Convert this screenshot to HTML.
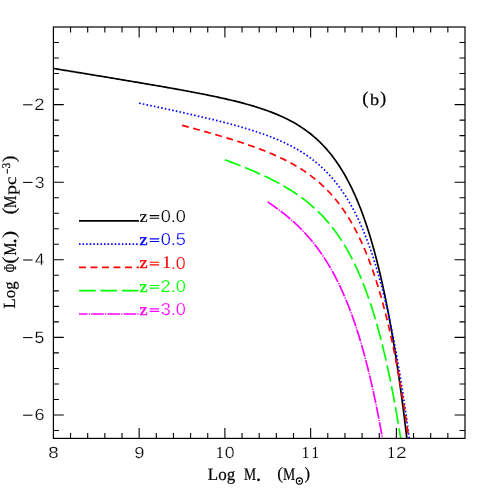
<!DOCTYPE html><html><head><meta charset="utf-8"><style>html,body{margin:0;padding:0;background:#fff;overflow:hidden}svg{display:block;position:absolute;left:0;top:0}text{text-rendering:geometricPrecision}</style></head><body>
<svg width="491" height="491" viewBox="0 0 491 491">
<rect width="491" height="491" fill="#fff"/>
<g opacity="0.999">
<g fill="none" stroke-width="1.7" stroke-linejoin="round">
<path d="M53.40,68.43 L55.37,68.75 L57.34,69.07 L59.32,69.40 L61.29,69.72 L63.26,70.04 L65.23,70.37 L67.20,70.69 L69.18,71.01 L71.15,71.34 L73.12,71.66 L75.09,71.99 L77.06,72.31 L79.04,72.63 L81.01,72.96 L82.98,73.28 L84.95,73.61 L86.92,73.93 L88.89,74.26 L90.87,74.58 L92.84,74.91 L94.81,75.23 L96.78,75.56 L98.75,75.88 L100.72,76.21 L102.70,76.53 L104.67,76.86 L106.64,77.19 L108.61,77.51 L110.58,77.84 L112.55,78.17 L114.52,78.50 L116.50,78.83 L118.47,79.15 L120.44,79.48 L122.41,79.81 L124.38,80.14 L126.35,80.47 L128.32,80.80 L130.29,81.13 L132.26,81.47 L134.23,81.80 L136.20,82.13 L138.17,82.46 L140.14,82.80 L142.11,83.13 L144.09,83.47 L146.05,83.80 L148.02,84.14 L149.99,84.48 L151.96,84.82 L153.93,85.15 L155.90,85.50 L157.87,85.84 L159.84,86.18 L161.81,86.52 L163.78,86.87 L165.75,87.21 L167.71,87.56 L169.68,87.91 L171.65,88.26 L173.62,88.61 L175.58,88.96 L177.55,89.32 L179.52,89.67 L181.48,90.03 L183.45,90.39 L185.41,90.76 L187.38,91.12 L189.34,91.49 L191.30,91.86 L193.27,92.23 L195.23,92.60 L197.19,92.98 L199.16,93.36 L201.12,93.75 L203.08,94.13 L205.04,94.52 L207.00,94.92 L208.95,95.32 L210.91,95.72 L212.87,96.13 L214.82,96.54 L216.78,96.95 L218.73,97.37 L220.68,97.80 L222.64,98.23 L224.58,98.67 L226.53,99.11 L228.48,99.56 L230.43,100.02 L232.37,100.48 L234.31,100.95 L236.25,101.43 L238.19,101.92 L240.13,102.42 L242.06,102.92 L243.99,103.43 L245.92,103.96 L247.84,104.49 L249.77,105.04 L251.69,105.59 L253.60,106.16 L255.51,106.74 L257.42,107.34 L259.33,107.94 L261.23,108.57 L263.12,109.20 L265.01,109.85 L266.89,110.52 L268.77,111.20 L270.64,111.90 L272.51,112.62 L274.37,113.36 L276.22,114.11 L278.06,114.89 L279.89,115.68 L281.71,116.50 L283.53,117.34 L285.33,118.20 L287.13,119.08 L288.91,119.98 L290.68,120.91 L292.43,121.87 L294.18,122.84 L295.90,123.85 L297.62,124.87 L299.32,125.93 L301.00,127.01 L302.66,128.11 L304.31,129.24 L305.94,130.40 L307.55,131.58 L309.14,132.79 L310.72,134.02 L312.27,135.28 L313.80,136.56 L315.31,137.87 L316.80,139.21 L318.26,140.56 L319.71,141.94 L321.13,143.35 L322.53,144.77 L323.91,146.22 L325.26,147.69 L326.59,149.18 L327.90,150.69 L329.19,152.22 L330.46,153.77 L331.70,155.33 L332.92,156.91 L334.12,158.51 L335.29,160.13 L336.45,161.76 L337.58,163.40 L338.70,165.06 L339.79,166.73 L340.87,168.42 L341.92,170.12 L342.96,171.83 L343.97,173.55 L344.97,175.28 L345.95,177.02 L346.91,178.77 L347.86,180.53 L348.79,182.30 L349.70,184.08 L350.59,185.87 L351.48,187.66 L352.34,189.46 L353.19,191.27 L354.03,193.08 L354.85,194.91 L355.66,196.73 L356.45,198.57 L357.23,200.41 L358.00,202.25 L358.76,204.10 L359.50,205.96 L360.23,207.81 L360.95,209.68 L361.66,211.55 L362.36,213.42 L363.05,215.30 L363.73,217.18 L364.39,219.06 L365.05,220.95 L365.70,222.84 L366.34,224.73 L366.97,226.63 L367.59,228.53 L368.20,230.43 L368.80,232.33 L369.40,234.24 L369.98,236.15 L370.56,238.06 L371.13,239.98 L371.70,241.90 L372.25,243.82 L372.80,245.74 L373.34,247.66 L373.88,249.59 L374.41,251.51 L374.93,253.44 L375.44,255.37 L375.95,257.31 L376.46,259.24 L376.95,261.18 L377.44,263.11 L377.93,265.05 L378.41,266.99 L378.88,268.93 L379.35,270.88 L379.81,272.82 L380.27,274.76 L380.72,276.71 L381.17,278.66 L381.61,280.61 L382.05,282.56 L382.49,284.51 L382.92,286.46 L383.34,288.41 L383.76,290.37 L384.18,292.32 L384.59,294.28 L384.99,296.23 L385.40,298.19 L385.80,300.15 L386.19,302.11 L386.58,304.07 L386.97,306.03 L387.36,307.99 L387.74,309.95 L388.11,311.91 L388.48,313.88 L388.85,315.84 L389.22,317.80 L389.58,319.77 L389.94,321.73 L390.30,323.70 L390.65,325.67 L391.00,327.63 L391.35,329.60 L391.69,331.57 L392.04,333.54 L392.37,335.51 L392.71,337.48 L393.04,339.45 L393.37,341.42 L393.70,343.39 L394.02,345.36 L394.34,347.34 L394.66,349.31 L394.98,351.28 L395.29,353.26 L395.60,355.23 L395.91,357.20 L396.22,359.18 L396.52,361.15 L396.83,363.13 L397.12,365.11 L397.42,367.08 L397.72,369.06 L398.01,371.04 L398.30,373.01 L398.59,374.99 L398.87,376.97 L399.16,378.95 L399.44,380.92 L399.72,382.90 L400.00,384.88 L400.27,386.86 L400.55,388.84 L400.82,390.82 L401.09,392.80 L401.36,394.78 L401.63,396.76 L401.89,398.74 L402.15,400.72 L402.42,402.70 L402.67,404.68 L402.93,406.67 L403.19,408.65 L403.44,410.63 L403.70,412.61 L403.95,414.59 L404.20,416.58 L404.44,418.56 L404.69,420.54 L404.93,422.53 L405.18,424.51 L405.42,426.49 L405.66,428.48 L405.90,430.46 L406.14,432.45 L406.37,434.43 L406.61,436.42 L406.84,438.40" stroke="#000"/>
<path d="M139.15,103.17 L141.10,103.58 L143.06,104.00 L145.01,104.41 L146.97,104.82 L148.92,105.24 L150.87,105.66 L152.83,106.07 L154.78,106.49 L156.73,106.91 L158.69,107.33 L160.64,107.75 L162.59,108.17 L164.55,108.59 L166.50,109.02 L168.45,109.44 L170.40,109.86 L172.35,110.29 L174.30,110.72 L176.25,111.15 L178.21,111.58 L180.16,112.01 L182.11,112.44 L184.06,112.88 L186.00,113.32 L187.95,113.76 L189.90,114.20 L191.85,114.64 L193.80,115.08 L195.74,115.53 L197.69,115.98 L199.64,116.43 L201.58,116.89 L203.53,117.34 L205.47,117.80 L207.41,118.27 L209.35,118.73 L211.30,119.20 L213.24,119.68 L215.18,120.15 L217.12,120.63 L219.05,121.12 L220.99,121.61 L222.93,122.10 L224.86,122.60 L226.79,123.11 L228.72,123.61 L230.65,124.13 L232.58,124.65 L234.51,125.17 L236.44,125.71 L238.36,126.25 L240.28,126.79 L242.20,127.35 L244.12,127.91 L246.03,128.48 L247.94,129.06 L249.85,129.64 L251.76,130.24 L253.66,130.85 L255.56,131.46 L257.46,132.09 L259.35,132.73 L261.24,133.38 L263.13,134.04 L265.01,134.71 L266.88,135.40 L268.75,136.10 L270.62,136.81 L272.48,137.54 L274.33,138.29 L276.18,139.05 L278.02,139.83 L279.85,140.62 L281.68,141.43 L283.49,142.26 L285.30,143.11 L287.10,143.98 L288.89,144.86 L290.67,145.77 L292.44,146.70 L294.20,147.65 L295.94,148.62 L297.67,149.61 L299.39,150.63 L301.10,151.67 L302.79,152.73 L304.47,153.82 L306.13,154.93 L307.78,156.06 L309.40,157.21 L311.02,158.39 L312.61,159.60 L314.19,160.83 L315.74,162.08 L317.28,163.35 L318.80,164.65 L320.30,165.97 L321.77,167.32 L323.23,168.68 L324.67,170.07 L326.08,171.48 L327.47,172.91 L328.85,174.37 L330.20,175.84 L331.52,177.33 L332.83,178.84 L334.12,180.37 L335.38,181.92 L336.62,183.48 L337.85,185.06 L339.05,186.66 L340.23,188.27 L341.39,189.89 L342.53,191.54 L343.64,193.19 L344.74,194.86 L345.82,196.54 L346.88,198.23 L347.93,199.94 L348.95,201.65 L349.96,203.38 L350.94,205.11 L351.92,206.86 L352.87,208.61 L353.81,210.38 L354.73,212.15 L355.63,213.93 L356.52,215.72 L357.40,217.51 L358.26,219.32 L359.10,221.13 L359.93,222.94 L360.75,224.77 L361.56,226.59 L362.35,228.43 L363.13,230.27 L363.89,232.11 L364.65,233.96 L365.39,235.82 L366.12,237.68 L366.84,239.54 L367.55,241.41 L368.24,243.28 L368.93,245.16 L369.61,247.03 L370.27,248.92 L370.93,250.80 L371.58,252.69 L372.22,254.59 L372.85,256.48 L373.47,258.38 L374.08,260.28 L374.68,262.19 L375.28,264.09 L375.87,266.00 L376.45,267.91 L377.02,269.83 L377.58,271.74 L378.14,273.66 L378.69,275.58 L379.23,277.51 L379.77,279.43 L380.30,281.36 L380.82,283.28 L381.34,285.21 L381.85,287.14 L382.35,289.08 L382.85,291.01 L383.34,292.95 L383.83,294.88 L384.31,296.82 L384.78,298.76 L385.25,300.71 L385.72,302.65 L386.18,304.59 L386.63,306.54 L387.08,308.48 L387.53,310.43 L387.97,312.38 L388.40,314.33 L388.83,316.28 L389.26,318.23 L389.68,320.18 L390.10,322.14 L390.51,324.09 L390.92,326.05 L391.33,328.00 L391.73,329.96 L392.13,331.92 L392.52,333.88 L392.91,335.83 L393.29,337.79 L393.68,339.75 L394.05,341.72 L394.43,343.68 L394.80,345.64 L395.17,347.60 L395.53,349.57 L395.90,351.53 L396.25,353.50 L396.61,355.46 L396.96,357.43 L397.31,359.40 L397.66,361.36 L398.00,363.33 L398.34,365.30 L398.67,367.27 L399.01,369.24 L399.34,371.21 L399.67,373.18 L399.99,375.15 L400.32,377.12 L400.64,379.09 L400.96,381.06 L401.27,383.04 L401.59,385.01 L401.90,386.98 L402.20,388.96 L402.51,390.93 L402.81,392.91 L403.11,394.88 L403.41,396.86 L403.71,398.83 L404.00,400.81 L404.30,402.78 L404.59,404.76 L404.87,406.74 L405.16,408.71 L405.44,410.69 L405.72,412.67 L406.00,414.65 L406.28,416.62 L406.56,418.60 L406.83,420.58 L407.10,422.56 L407.37,424.54 L407.64,426.52 L407.91,428.50 L408.17,430.48 L408.43,432.46 L408.70,434.44 L408.96,436.42 L409.21,438.40" stroke="#0000ff" stroke-dasharray="1.6 2.15"/>
<path d="M182.03,125.30 L183.95,125.82 L185.87,126.33 L187.79,126.85 L189.71,127.37 L191.64,127.90 L193.56,128.42 L195.48,128.95 L197.40,129.48 L199.31,130.01 L201.23,130.54 L203.15,131.08 L205.07,131.62 L206.98,132.16 L208.90,132.70 L210.81,133.25 L212.73,133.80 L214.64,134.35 L216.55,134.90 L218.46,135.46 L220.37,136.03 L222.28,136.60 L224.19,137.17 L226.09,137.74 L228.00,138.32 L229.90,138.91 L231.80,139.50 L233.70,140.09 L235.60,140.70 L237.50,141.30 L239.39,141.92 L241.28,142.53 L243.17,143.16 L245.06,143.79 L246.95,144.43 L248.83,145.08 L250.71,145.74 L252.59,146.40 L254.46,147.07 L256.33,147.76 L258.20,148.45 L260.06,149.15 L261.92,149.86 L263.78,150.58 L265.63,151.32 L267.47,152.06 L269.31,152.82 L271.15,153.59 L272.98,154.37 L274.81,155.17 L276.62,155.98 L278.44,156.81 L280.24,157.65 L282.04,158.50 L283.83,159.37 L285.61,160.26 L287.38,161.17 L289.15,162.09 L290.90,163.03 L292.65,163.99 L294.38,164.97 L296.10,165.97 L297.81,166.99 L299.51,168.02 L301.20,169.08 L302.87,170.16 L304.53,171.26 L306.18,172.38 L307.81,173.52 L309.42,174.69 L311.02,175.87 L312.61,177.08 L314.17,178.31 L315.72,179.56 L317.25,180.83 L318.77,182.13 L320.26,183.44 L321.74,184.78 L323.19,186.13 L324.63,187.51 L326.05,188.91 L327.45,190.33 L328.83,191.77 L330.18,193.22 L331.52,194.70 L332.84,196.19 L334.13,197.70 L335.41,199.23 L336.67,200.77 L337.90,202.33 L339.12,203.91 L340.31,205.50 L341.49,207.11 L342.65,208.73 L343.78,210.36 L344.90,212.01 L346.00,213.67 L347.08,215.35 L348.14,217.03 L349.19,218.73 L350.21,220.43 L351.22,222.15 L352.21,223.87 L353.19,225.61 L354.14,227.36 L355.09,229.11 L356.01,230.87 L356.92,232.64 L357.82,234.42 L358.70,236.21 L359.57,238.00 L360.42,239.80 L361.26,241.61 L362.08,243.42 L362.89,245.24 L363.69,247.06 L364.48,248.89 L365.25,250.72 L366.01,252.56 L366.76,254.41 L367.50,256.26 L368.23,258.11 L368.94,259.97 L369.65,261.83 L370.34,263.70 L371.03,265.57 L371.70,267.44 L372.37,269.32 L373.02,271.20 L373.67,273.08 L374.30,274.96 L374.93,276.85 L375.55,278.75 L376.16,280.64 L376.77,282.54 L377.36,284.44 L377.95,286.34 L378.53,288.25 L379.10,290.15 L379.66,292.06 L380.22,293.97 L380.77,295.89 L381.32,297.80 L381.85,299.72 L382.38,301.64 L382.91,303.56 L383.42,305.48 L383.93,307.41 L384.44,309.33 L384.94,311.26 L385.43,313.19 L385.92,315.12 L386.40,317.05 L386.88,318.98 L387.35,320.92 L387.81,322.85 L388.28,324.79 L388.73,326.73 L389.18,328.67 L389.63,330.61 L390.07,332.55 L390.51,334.49 L390.94,336.44 L391.37,338.38 L391.79,340.33 L392.21,342.27 L392.62,344.22 L393.03,346.17 L393.44,348.12 L393.84,350.07 L394.24,352.02 L394.64,353.97 L395.03,355.92 L395.42,357.87 L395.80,359.83 L396.18,361.78 L396.56,363.74 L396.93,365.69 L397.30,367.65 L397.67,369.61 L398.03,371.56 L398.39,373.52 L398.75,375.48 L399.10,377.44 L399.45,379.40 L399.80,381.36 L400.14,383.32 L400.48,385.28 L400.82,387.25 L401.16,389.21 L401.49,391.17 L401.82,393.13 L402.15,395.10 L402.47,397.06 L402.80,399.03 L403.11,400.99 L403.43,402.96 L403.75,404.92 L404.06,406.89 L404.37,408.86 L404.68,410.82 L404.98,412.79 L405.28,414.76 L405.58,416.73 L405.88,418.70 L406.18,420.67 L406.47,422.64 L406.76,424.60 L407.05,426.57 L407.34,428.54 L407.62,430.52 L407.91,432.49 L408.19,434.46 L408.47,436.43 L408.75,438.40" stroke="#ff0000" stroke-dasharray="6.9 4.6"/>
<path d="M224.90,159.83 L226.77,160.52 L228.64,161.21 L230.50,161.91 L232.37,162.62 L234.23,163.33 L236.09,164.04 L237.94,164.76 L239.80,165.49 L241.65,166.22 L243.50,166.96 L245.35,167.71 L247.19,168.46 L249.03,169.23 L250.87,170.00 L252.70,170.77 L254.53,171.56 L256.36,172.36 L258.18,173.16 L260.00,173.98 L261.81,174.80 L263.62,175.64 L265.42,176.49 L267.22,177.35 L269.01,178.22 L270.80,179.10 L272.58,179.99 L274.35,180.90 L276.12,181.82 L277.88,182.76 L279.63,183.71 L281.37,184.68 L283.11,185.66 L284.83,186.65 L286.55,187.66 L288.25,188.69 L289.95,189.74 L291.63,190.80 L293.31,191.88 L294.97,192.98 L296.62,194.09 L298.26,195.22 L299.89,196.38 L301.50,197.55 L303.10,198.74 L304.68,199.95 L306.25,201.18 L307.80,202.42 L309.34,203.69 L310.86,204.98 L312.36,206.28 L313.85,207.61 L315.32,208.95 L316.78,210.31 L318.21,211.69 L319.63,213.09 L321.03,214.51 L322.41,215.95 L323.77,217.40 L325.11,218.87 L326.44,220.36 L327.74,221.87 L329.03,223.39 L330.30,224.92 L331.55,226.48 L332.78,228.04 L333.99,229.63 L335.18,231.22 L336.35,232.83 L337.50,234.46 L338.64,236.09 L339.76,237.74 L340.86,239.40 L341.94,241.08 L343.00,242.76 L344.05,244.46 L345.08,246.16 L346.09,247.88 L347.09,249.60 L348.07,251.34 L349.04,253.08 L349.98,254.83 L350.92,256.59 L351.84,258.36 L352.74,260.13 L353.63,261.92 L354.50,263.71 L355.37,265.50 L356.21,267.31 L357.05,269.11 L357.87,270.93 L358.68,272.75 L359.47,274.58 L360.26,276.41 L361.03,278.25 L361.79,280.09 L362.54,281.93 L363.27,283.78 L364.00,285.64 L364.72,287.50 L365.42,289.36 L366.12,291.23 L366.80,293.10 L367.48,294.97 L368.14,296.85 L368.80,298.73 L369.45,300.62 L370.09,302.50 L370.72,304.39 L371.34,306.28 L371.95,308.18 L372.56,310.08 L373.15,311.98 L373.74,313.88 L374.33,315.79 L374.90,317.69 L375.47,319.60 L376.03,321.52 L376.58,323.43 L377.13,325.35 L377.67,327.26 L378.20,329.18 L378.73,331.10 L379.25,333.03 L379.76,334.95 L380.27,336.88 L380.77,338.81 L381.27,340.74 L381.76,342.67 L382.24,344.60 L382.72,346.53 L383.20,348.47 L383.67,350.40 L384.13,352.34 L384.59,354.28 L385.05,356.22 L385.50,358.16 L385.94,360.10 L386.38,362.04 L386.82,363.99 L387.25,365.93 L387.67,367.88 L388.10,369.83 L388.51,371.77 L388.93,373.72 L389.34,375.67 L389.74,377.62 L390.15,379.57 L390.54,381.53 L390.94,383.48 L391.33,385.43 L391.72,387.39 L392.10,389.34 L392.48,391.30 L392.86,393.25 L393.23,395.21 L393.60,397.17 L393.97,399.13 L394.33,401.09 L394.69,403.04 L395.05,405.00 L395.40,406.96 L395.75,408.93 L396.10,410.89 L396.44,412.85 L396.78,414.81 L397.12,416.78 L397.46,418.74 L397.79,420.70 L398.12,422.67 L398.45,424.63 L398.78,426.60 L399.10,428.56 L399.42,430.53 L399.74,432.50 L400.05,434.46 L400.36,436.43 L400.67,438.40" stroke="#00ff00" stroke-dasharray="16.7 4.7"/>
<path d="M267.77,202.06 L269.43,203.16 L271.08,204.28 L272.72,205.40 L274.35,206.55 L275.98,207.70 L277.59,208.87 L279.19,210.06 L280.78,211.26 L282.36,212.47 L283.92,213.70 L285.48,214.95 L287.02,216.21 L288.55,217.48 L290.07,218.77 L291.57,220.08 L293.06,221.40 L294.54,222.74 L296.00,224.10 L297.44,225.47 L298.87,226.85 L300.29,228.25 L301.69,229.67 L303.07,231.10 L304.44,232.55 L305.79,234.01 L307.13,235.49 L308.45,236.98 L309.75,238.49 L311.04,240.01 L312.30,241.54 L313.56,243.09 L314.79,244.65 L316.01,246.23 L317.21,247.82 L318.40,249.42 L319.56,251.03 L320.71,252.66 L321.85,254.30 L322.96,255.95 L324.07,257.61 L325.15,259.28 L326.22,260.96 L327.27,262.65 L328.31,264.35 L329.33,266.06 L330.34,267.78 L331.33,269.51 L332.30,271.24 L333.26,272.99 L334.21,274.74 L335.14,276.50 L336.06,278.27 L336.96,280.04 L337.85,281.82 L338.73,283.61 L339.59,285.41 L340.44,287.21 L341.28,289.01 L342.11,290.83 L342.92,292.64 L343.72,294.47 L344.51,296.30 L345.29,298.13 L346.06,299.97 L346.81,301.81 L347.56,303.66 L348.29,305.51 L349.02,307.36 L349.73,309.22 L350.44,311.09 L351.13,312.95 L351.82,314.82 L352.49,316.70 L353.16,318.57 L353.82,320.45 L354.47,322.34 L355.11,324.22 L355.74,326.11 L356.36,328.00 L356.98,329.90 L357.59,331.79 L358.19,333.69 L358.78,335.59 L359.37,337.50 L359.94,339.40 L360.51,341.31 L361.08,343.22 L361.64,345.13 L362.19,347.05 L362.73,348.96 L363.27,350.88 L363.80,352.80 L364.32,354.72 L364.84,356.64 L365.35,358.57 L365.86,360.50 L366.36,362.42 L366.86,364.35 L367.35,366.28 L367.83,368.21 L368.31,370.15 L368.79,372.08 L369.26,374.02 L369.72,375.95 L370.18,377.89 L370.64,379.83 L371.09,381.77 L371.53,383.71 L371.97,385.65 L372.41,387.60 L372.84,389.54 L373.27,391.49 L373.69,393.43 L374.11,395.38 L374.53,397.33 L374.94,399.28 L375.35,401.23 L375.75,403.18 L376.15,405.13 L376.55,407.08 L376.94,409.03 L377.33,410.99 L377.71,412.94 L378.10,414.90 L378.47,416.85 L378.85,418.81 L379.22,420.76 L379.59,422.72 L379.95,424.68 L380.32,426.64 L380.67,428.60 L381.03,430.56 L381.38,432.52 L381.73,434.48 L382.08,436.44 L382.42,438.40" stroke="#ff00ff" stroke-dasharray="12.3 1.2 1.2 1.2"/>
</g>
<path d="M70.55,438.4v-5.5M70.55,27.0v5.5M87.70,438.4v-5.5M87.70,27.0v5.5M104.85,438.4v-5.5M104.85,27.0v5.5M122.00,438.4v-5.5M122.00,27.0v5.5M139.15,438.4v-10.4M139.15,27.0v10.4M156.30,438.4v-5.5M156.30,27.0v5.5M173.45,438.4v-5.5M173.45,27.0v5.5M190.60,438.4v-5.5M190.60,27.0v5.5M207.75,438.4v-5.5M207.75,27.0v5.5M224.90,438.4v-10.4M224.90,27.0v10.4M242.05,438.4v-5.5M242.05,27.0v5.5M259.20,438.4v-5.5M259.20,27.0v5.5M276.35,438.4v-5.5M276.35,27.0v5.5M293.50,438.4v-5.5M293.50,27.0v5.5M310.65,438.4v-10.4M310.65,27.0v10.4M327.80,438.4v-5.5M327.80,27.0v5.5M344.95,438.4v-5.5M344.95,27.0v5.5M362.10,438.4v-5.5M362.10,27.0v5.5M379.25,438.4v-5.5M379.25,27.0v5.5M396.40,438.4v-10.4M396.40,27.0v10.4M413.55,438.4v-5.5M413.55,27.0v5.5M430.70,438.4v-5.5M430.70,27.0v5.5M447.85,438.4v-5.5M447.85,27.0v5.5M53.4,430.52h5.5M465.0,430.52h-5.5M53.4,415.00h10.4M465.0,415.00h-10.4M53.4,399.48h5.5M465.0,399.48h-5.5M53.4,383.96h5.5M465.0,383.96h-5.5M53.4,368.44h5.5M465.0,368.44h-5.5M53.4,352.92h5.5M465.0,352.92h-5.5M53.4,337.40h10.4M465.0,337.40h-10.4M53.4,321.88h5.5M465.0,321.88h-5.5M53.4,306.36h5.5M465.0,306.36h-5.5M53.4,290.84h5.5M465.0,290.84h-5.5M53.4,275.32h5.5M465.0,275.32h-5.5M53.4,259.80h10.4M465.0,259.80h-10.4M53.4,244.28h5.5M465.0,244.28h-5.5M53.4,228.76h5.5M465.0,228.76h-5.5M53.4,213.24h5.5M465.0,213.24h-5.5M53.4,197.72h5.5M465.0,197.72h-5.5M53.4,182.20h10.4M465.0,182.20h-10.4M53.4,166.68h5.5M465.0,166.68h-5.5M53.4,151.16h5.5M465.0,151.16h-5.5M53.4,135.64h5.5M465.0,135.64h-5.5M53.4,120.12h5.5M465.0,120.12h-5.5M53.4,104.60h10.4M465.0,104.60h-10.4M53.4,89.08h5.5M465.0,89.08h-5.5M53.4,73.56h5.5M465.0,73.56h-5.5M53.4,58.04h5.5M465.0,58.04h-5.5M53.4,42.52h5.5M465.0,42.52h-5.5" stroke="#000" stroke-width="1.1" fill="none"/>
<rect x="53.4" y="27.0" width="411.6" height="411.4" fill="none" stroke="#000" stroke-width="1.2"/>
<text transform="matrix(0.1875 0 0 0.1624 48.19 458.44)" font-family='"Liberation Sans",sans-serif' font-size="100" fill="#000" stroke="#fff" stroke-width="1.43">8</text>
<text transform="matrix(0.1840 0 0 0.1596 134.24 458.24)" font-family='"Liberation Sans",sans-serif' font-size="100" fill="#000" stroke="#fff" stroke-width="1.46">9</text>
<text transform="matrix(0.1505 0 0 0.1681 215.88 458.40)" font-family='"Liberation Serif",serif' font-size="100" fill="#000">1</text>
<text transform="matrix(0.1778 0 0 0.1624 224.71 458.44)" font-family='"Liberation Sans",sans-serif' font-size="100" fill="#000" stroke="#fff" stroke-width="1.47">0</text>
<text transform="matrix(0.1505 0 0 0.1681 301.68 458.40)" font-family='"Liberation Serif",serif' font-size="100" fill="#000">1</text>
<text transform="matrix(0.1505 0 0 0.1681 311.48 458.40)" font-family='"Liberation Serif",serif' font-size="100" fill="#000">1</text>
<text transform="matrix(0.1477 0 0 0.1681 387.60 458.40)" font-family='"Liberation Serif",serif' font-size="100" fill="#000">1</text>
<text transform="matrix(0.1910 0 0 0.1604 396.04 458.40)" font-family='"Liberation Sans",sans-serif' font-size="100" fill="#000" stroke="#fff" stroke-width="1.42">2</text>
<path d="M23.1,104.80H32.5" stroke="#000" stroke-width="1.05"/>
<text transform="matrix(0.1844 0 0 0.1647 34.37 110.20)" font-family='"Liberation Sans",sans-serif' font-size="100" fill="#000" stroke="#fff" stroke-width="1.43">2</text>
<path d="M23.1,182.40H32.5" stroke="#000" stroke-width="1.05"/>
<text transform="matrix(0.1772 0 0 0.1624 34.63 187.64)" font-family='"Liberation Sans",sans-serif' font-size="100" fill="#000" stroke="#fff" stroke-width="1.47">3</text>
<path d="M23.1,260.00H32.5" stroke="#000" stroke-width="1.05"/>
<text transform="matrix(0.1667 0 0 0.1672 34.92 265.40)" font-family='"Liberation Sans",sans-serif' font-size="100" fill="#000" stroke="#fff" stroke-width="1.50">4</text>
<path d="M23.1,337.60H32.5" stroke="#000" stroke-width="1.05"/>
<text transform="matrix(0.1772 0 0 0.1648 34.59 342.84)" font-family='"Liberation Sans",sans-serif' font-size="100" fill="#000" stroke="#fff" stroke-width="1.46">5</text>
<path d="M23.1,415.20H32.5" stroke="#000" stroke-width="1.05"/>
<text transform="matrix(0.1820 0 0 0.1624 34.38 420.44)" font-family='"Liberation Sans",sans-serif' font-size="100" fill="#000" stroke="#fff" stroke-width="1.45">6</text>
<path d="M79.0,220.8H138.9" stroke="#000" stroke-width="1.7" fill="none"/>
<text transform="matrix(0.1824 0 0 0.1678 139.51 221.70)" font-family='"Liberation Serif",serif' font-size="100" fill="#000" stroke="#000" stroke-width="1.14">z</text>
<path d="M149.7,215.60H159.2M149.7,218.20H159.2" stroke="#000" stroke-width="1.15"/>
<text transform="matrix(0.1814 0 0 0.1737 160.69 221.93)" font-family='"Liberation Sans",sans-serif' font-size="100" fill="#000" stroke="#fff" stroke-width="1.41">0.0</text>
<path d="M79.0,244.1H138.9" stroke="#0000ff" stroke-width="1.7" fill="none" stroke-dasharray="1.55 2.02"/>
<text transform="matrix(0.1824 0 0 0.1678 139.51 245.00)" font-family='"Liberation Serif",serif' font-size="100" fill="#0000ff" stroke="#0000ff" stroke-width="2.28">z</text>
<path d="M149.7,238.90H159.2M149.7,241.50H159.2" stroke="#0000ff" stroke-width="1.15"/>
<text transform="matrix(0.1818 0 0 0.1737 160.69 245.23)" font-family='"Liberation Sans",sans-serif' font-size="100" fill="#0000ff" stroke="#fff" stroke-width="1.41">0.5</text>
<path d="M79.0,267.4H138.9" stroke="#ff0000" stroke-width="1.7" fill="none" stroke-dasharray="6.9 4.6"/>
<text transform="matrix(0.1824 0 0 0.1678 139.51 268.30)" font-family='"Liberation Serif",serif' font-size="100" fill="#ff0000" stroke="#ff0000" stroke-width="2.28">z</text>
<path d="M149.7,262.20H159.2M149.7,264.80H159.2" stroke="#ff0000" stroke-width="1.15"/>
<text transform="matrix(0.1960 0 0 0.1787 161.78 268.40)" font-family='"Liberation Serif",serif' font-size="100" fill="#ff0000">1</text>
<text transform="matrix(0.1791 0 0 0.1737 170.76 268.53)" font-family='"Liberation Sans",sans-serif' font-size="100" fill="#ff0000" stroke="#fff" stroke-width="1.42">.0</text>
<path d="M79.0,290.7H138.9" stroke="#00ff00" stroke-width="1.7" fill="none" stroke-dasharray="16.7 4.7"/>
<text transform="matrix(0.1824 0 0 0.1678 139.51 291.60)" font-family='"Liberation Serif",serif' font-size="100" fill="#00ff00" stroke="#00ff00" stroke-width="2.28">z</text>
<path d="M149.7,285.50H159.2M149.7,288.10H159.2" stroke="#00ff00" stroke-width="1.15"/>
<text transform="matrix(0.1830 0 0 0.1737 160.48 291.83)" font-family='"Liberation Sans",sans-serif' font-size="100" fill="#00ff00" stroke="#fff" stroke-width="1.40">2.0</text>
<path d="M79.0,314.0H138.9" stroke="#ff00ff" stroke-width="1.7" fill="none" stroke-dasharray="12.6 1.2 1.2 1.2" stroke-dashoffset="4"/>
<text transform="matrix(0.1824 0 0 0.1678 139.51 314.90)" font-family='"Liberation Serif",serif' font-size="100" fill="#ff00ff" stroke="#ff00ff" stroke-width="2.28">z</text>
<path d="M149.7,308.80H159.2M149.7,311.40H159.2" stroke="#ff00ff" stroke-width="1.15"/>
<text transform="matrix(0.1813 0 0 0.1737 160.71 315.13)" font-family='"Liberation Sans",sans-serif' font-size="100" fill="#ff00ff" stroke="#fff" stroke-width="1.41">3.0</text>
<text transform="matrix(0.1908 0 0 0.1798 362.26 104.37)" font-family='"Liberation Serif",serif' font-size="100" fill="#000" stroke="#000" stroke-width="1.19">(</text>
<text transform="matrix(0.1840 0 0 0.1620 370.10 104.84)" font-family='"Liberation Serif",serif' font-size="100" fill="#000" stroke="#000" stroke-width="1.27">b</text>
<text transform="matrix(0.1869 0 0 0.1798 380.10 104.37)" font-family='"Liberation Serif",serif' font-size="100" fill="#000" stroke="#000" stroke-width="1.20">)</text>
<text transform="matrix(0.1695 0 0 0.1734 207.81 479.66)" font-family='"Liberation Serif",serif' font-size="100" fill="#000" stroke="#000" stroke-width="1.28">Log</text>
<text transform="matrix(0.1360 0 0 0.1772 243.91 480.10)" font-family='"Liberation Serif",serif' font-size="100" fill="#000" stroke="#000" stroke-width="1.41">M</text>
<circle cx="258.5" cy="479.8" r="1.4" fill="#000"/>
<text transform="matrix(0.1713 0 0 0.1731 277.15 479.11)" font-family='"Liberation Serif",serif' font-size="100" fill="#000" stroke="#000" stroke-width="1.28">(</text>
<text transform="matrix(0.1372 0 0 0.1772 283.10 480.10)" font-family='"Liberation Serif",serif' font-size="100" fill="#000" stroke="#000" stroke-width="1.40">M</text>
<circle cx="299.4" cy="481.0" r="3.1" fill="none" stroke="#000" stroke-width="1.1"/><circle cx="299.4" cy="481.0" r="1.1" fill="#000"/>
<text transform="matrix(0.1674 0 0 0.1731 304.46 479.11)" font-family='"Liberation Serif",serif' font-size="100" fill="#000" stroke="#000" stroke-width="1.29">)</text>
<g transform="translate(15.7,307.3) rotate(-90)">
<text transform="matrix(0.1670 0 0 0.1700 -1.08 -0.27)" font-family='"Liberation Serif",serif' font-size="100" fill="#000" stroke="#000" stroke-width="1.31">Log</text>
<text transform="matrix(0.1149 0 0 0.1787 35.05 0.20)" font-family='"Liberation Serif",serif' font-size="100" fill="#000" stroke="#000" stroke-width="1.50">Φ</text>
<text transform="matrix(0.2180 0 0 0.1820 43.64 -1.17)" font-family='"Liberation Serif",serif' font-size="100" fill="#000" stroke="#000" stroke-width="1.10">(</text>
<text transform="matrix(0.1432 0 0 0.1772 51.69 0.00)" font-family='"Liberation Serif",serif' font-size="100" fill="#000" stroke="#000" stroke-width="1.37">M</text>
<circle cx="66.3" cy="-0.6" r="1.45" fill="#000"/>
<text transform="matrix(0.2180 0 0 0.1820 69.30 -1.17)" font-family='"Liberation Serif",serif' font-size="100" fill="#000" stroke="#000" stroke-width="1.10">)</text>
<text transform="matrix(0.1947 0 0 0.1820 92.94 -1.17)" font-family='"Liberation Serif",serif' font-size="100" fill="#000" stroke="#000" stroke-width="1.17">(</text>
<text transform="matrix(0.1384 0 0 0.1756 99.40 0.00)" font-family='"Liberation Serif",serif' font-size="100" fill="#000" stroke="#000" stroke-width="1.40">M</text>
<text transform="matrix(0.1933 0 0 0.1623 112.49 0.05)" font-family='"Liberation Serif",serif' font-size="100" fill="#000" stroke="#000" stroke-width="1.24">p</text>
<text transform="matrix(0.1893 0 0 0.1611 122.18 -0.01)" font-family='"Liberation Serif",serif' font-size="100" fill="#000" stroke="#000" stroke-width="1.26">c</text>
<path d="M133.6,-8.4H138.5" stroke="#000" stroke-width="1.0"/>
<text transform="matrix(0.1162 0 0 0.1176 138.84 -5.31)" font-family='"Liberation Serif",serif' font-size="100" fill="#000" stroke="#000" stroke-width="1.88">3</text>
<text transform="matrix(0.1947 0 0 0.1820 145.37 -1.17)" font-family='"Liberation Serif",serif' font-size="100" fill="#000" stroke="#000" stroke-width="1.17">)</text>
</g>
</g>
</svg></body></html>
